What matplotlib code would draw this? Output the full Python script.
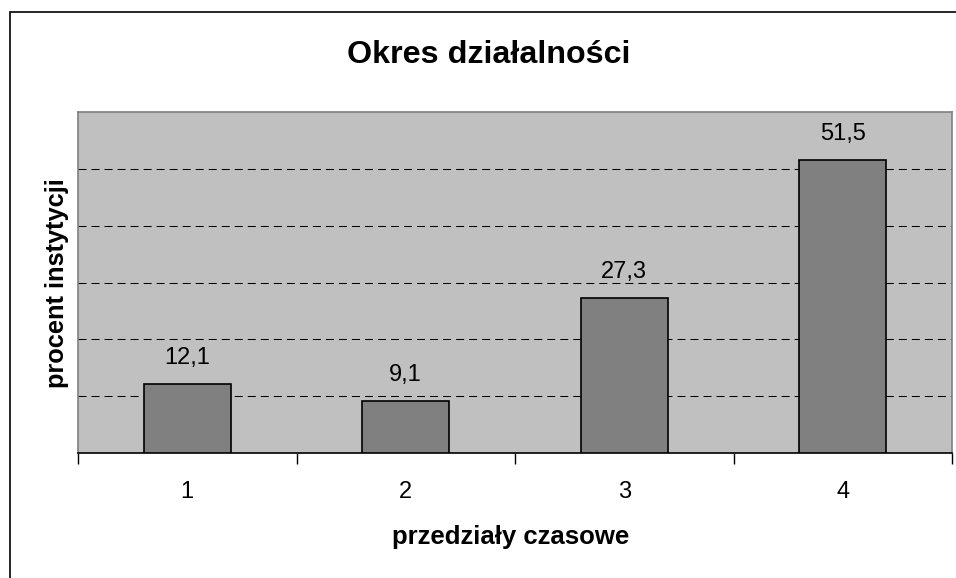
import matplotlib
matplotlib.use('Agg')
import matplotlib.pyplot as plt
from matplotlib.patches import Rectangle

plt.rcParams['font.family'] = ['Liberation Sans', 'DejaVu Sans']

# data
categories = ['1', '2', '3', '4']
values = [12.1, 9.1, 27.3, 51.5]
labels = ['12,1', '9,1', '27,3', '51,5']

W, H = 956, 578
fig = plt.figure(figsize=(W / 100, H / 100), dpi=100)

# chart area border (only left and top visible in the crop)
fig.patches.append(Rectangle((10 / W, -0.1), 1.2, 1 - 12 / H + 0.1,
                             transform=fig.transFigure, fill=False,
                             edgecolor='black', linewidth=1.2))

ax = fig.add_axes([78 / W, (H - 453) / H, (952 - 78) / W, (453 - 112) / H])
ax.set_facecolor('#C0C0C0')

pos = range(len(categories))
ax.bar(pos, values, width=0.4, color='#808080', edgecolor='black',
       linewidth=1.2, zorder=3)

for p, v, lab in zip(pos, values, labels):
    ax.text(p, v + 4.6, lab, ha='center', va='center', fontsize=17, zorder=4)

ax.set_xlim(-0.5, len(categories) - 0.5)
ax.set_ylim(0, 60)

# gridlines
for g in [10, 20, 30, 40, 50]:
    ax.axhline(g, color='black', linewidth=0.75, linestyle=(0, (7.7, 4.8)), zorder=1)

ax.set_yticks([])
ax.set_xticks([i - 0.5 for i in range(len(categories) + 1)])
ax.set_xticklabels([])
ax.set_xticks(list(pos), minor=True)
ax.set_xticklabels(categories, minor=True, fontsize=17)
ax.tick_params(axis='x', which='major', direction='out', length=8, width=1, color='black')
ax.tick_params(axis='x', which='minor', length=0, pad=20)

for s in ['left', 'top', 'right']:
    ax.spines[s].set_color('#808080')
    ax.spines[s].set_linewidth(1.2)
ax.spines['bottom'].set_color('black')
ax.spines['bottom'].set_linewidth(1.2)

fig.text(489 / W, 1 - 55 / H, 'Okres działalności', ha='center', va='center',
         fontsize=23.2, fontweight='bold')
fig.text(511 / W, 1 - 537 / H, 'przedziały czasowe', ha='center', va='center',
         fontsize=18.5, fontweight='bold')
fig.text(57 / W, 1 - 283 / H, 'procent instytycji', ha='center', va='center',
         rotation=90, fontsize=18.3, fontweight='bold')

fig.savefig('out.png', dpi=100)
